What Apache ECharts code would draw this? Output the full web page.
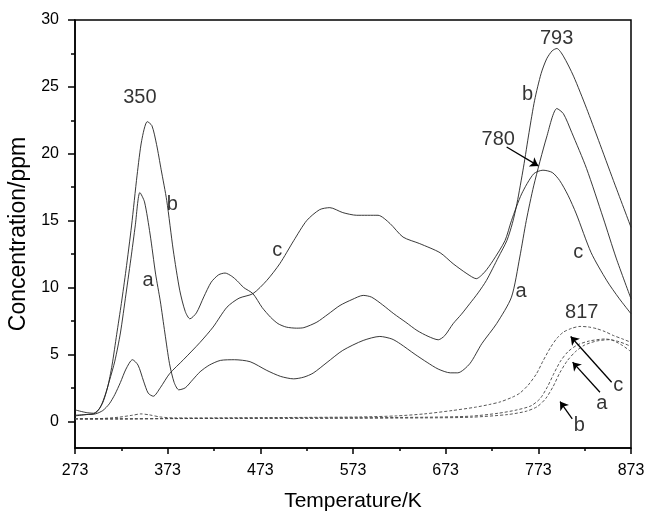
<!DOCTYPE html>
<html>
<head>
<meta charset="utf-8">
<script src="https://cdn.jsdelivr.net/npm/echarts@6/dist/echarts.min.js"></script>
<style>html,body{margin:0;padding:0;background:#fff}#c{width:647px;height:511px}</style>
</head>
<body>
<div id="c"></div>
<script>
// Solid curves
var aT = [273,285,295,303,310,316,322,328,334,338,343,348,354,360,365,370,375,380,385,392,400,408,418,430,445,462,480,495,509,520,530,545,562,584,602,615,624,640,653,665,678,686,699,712,728,744,753,760,768,782,793,800,809,825,843,857,873];
var aV = [0.45,0.5,0.6,1.4,3.0,4.5,6.6,9.5,12.5,14.6,17.1,16.4,14.0,11.0,9.0,6.6,4.3,2.9,2.35,2.5,3.1,3.7,4.2,4.55,4.6,4.45,3.8,3.35,3.17,3.3,3.6,4.4,5.3,6.04,6.34,6.15,5.79,5.0,4.4,3.9,3.62,3.62,4.3,5.8,7.3,9.28,12.28,15.0,17.6,21.25,23.38,23.0,21.6,18.9,15.2,12.2,9.16];
var bT = [273,285,293,300,308,313,318,323,328,334,340,345,351,356,361,366,372,379,386,392,397,404,412,420,428,435,442,448,455,465,475,484,492,501,512,520,534,546,559,572,584,593,605,617,630,642,654,665,672,681,690,699,708,717,730,739,745,750,757,763,769,776,782,788,793,800,811,825,838,854,873];
var bV = [0.85,0.65,0.6,1.0,2.5,4.2,6.5,8.8,11.3,14.6,18.4,21.0,22.4,22.1,20.7,18.8,16.5,12.8,9.8,8.2,7.66,8.1,9.3,10.4,10.95,11.08,10.85,10.5,10.0,9.54,8.5,7.78,7.3,7.04,6.96,7.0,7.41,8.0,8.66,9.1,9.41,9.28,8.7,8.04,7.4,6.79,6.35,6.09,6.4,7.29,8.0,8.79,9.6,10.53,12.28,13.5,14.8,16.3,19.0,21.6,24.0,26.0,27.1,27.7,27.87,27.3,25.8,23.4,21.0,18.0,14.5];
var cT = [273,285,295,303,310,316,322,328,335,341,347,352,357.5,365,375,390,408,422,437,450,465,480,494,509,523,537,548,562,577,600,613,627,645,667,681,696,706,715,724,737,744,755,768,778,788,796,805,814,830,847,860,873];
var cV = [0.4,0.5,0.55,0.8,1.3,2.0,2.9,3.9,4.6,4.2,3.0,2.1,1.87,2.5,3.55,4.6,5.9,7.04,8.53,9.2,9.54,10.53,11.78,13.5,15.0,15.82,15.97,15.6,15.4,15.4,14.78,13.77,13.28,12.6,11.78,11.03,10.66,11.15,12.0,13.5,15.0,17.0,18.5,18.77,18.6,18.0,16.9,15.5,12.6,10.5,9.2,8.04];
// Dashed curves
var daT = [273,320,380,450,550,650,700,730,750,765,775,783,790,797,805,815,828,845,860,873];
var daV = [0.15,0.15,0.2,0.22,0.25,0.3,0.38,0.6,0.85,1.15,1.7,2.6,3.6,4.5,5.2,5.7,6.0,6.15,5.95,5.6];
var dbT = [273,320,380,450,550,650,700,740,760,772,781,789,796,804,813,823,836,850,863,873];
var dbV = [0.2,0.2,0.2,0.22,0.22,0.25,0.3,0.5,0.75,1.1,1.7,2.6,3.6,4.5,5.2,5.7,6.0,6.1,5.7,5.2];
var dcT = [273,300,320,335,344,353,365,380,420,500,580,620,650,680,705,720,732,745,753,762,771,778,786,793,800,809,818,827,836,845,854,864,873];
var dcV = [0.18,0.2,0.3,0.45,0.55,0.48,0.32,0.25,0.25,0.28,0.32,0.4,0.55,0.8,1.05,1.25,1.45,1.8,2.1,2.7,3.55,4.5,5.5,6.2,6.66,6.95,7.09,7.05,6.92,6.7,6.41,6.15,5.9];
// Ticks
var xMajor = [273,373,473,573,673,773,873];
var xMinor = [323,423,523,623,723,823];
var yMajor = [0,5,10,15,20,25,30];
var yMinor = [2.5,7.5,12.5,17.5,22.5,27.5];
// Annotations
var noteText = ['350','793','780','817','b','a','c','b','a','c','c','a','b'];
var noteT = [343,792.8,729.8,819.8,378,351.8,491.3,761.5,754.3,816.1,859.3,841.4,817.2];
var noteV = [24.2,28.6,21.1,8.16,16.2,10.5,12.8,24.4,9.73,12.65,2.67,1.3,-0.32];
// Arrows
var arrowFromT = [738.8,852.1,839.5,809.6];
var arrowFromV = [20.5,2.92,2.17,0.18];
var arrowToT = [773.0,807.9,810.0,796.4];
var arrowToV = [19.09,6.34,4.42,1.47];

function zip(t, v){ return t.map(function(x,i){ return [x, v[i]]; }); }
var FONT = '"Liberation Sans", Arial, sans-serif';
var chart = echarts.init(document.getElementById('c'), null, {renderer:'canvas'});

function curve(name, t, v, dash){
  return {name:name, type:'line', data:zip(t,v), smooth:0.25, showSymbol:false, symbol:'none',
    lineStyle:{color: dash ? '#444' : '#222', width:0.9, type: dash ? [3,2] : 'solid'},
    xAxisIndex:0, yAxisIndex:0, z:3, silent:true, animation:false};
}

var option = {
  animation:false,
  grid:{left:75, right:16, top:20, bottom:63, show:true, borderColor:'#000', borderWidth:1.5,
        backgroundColor:'transparent', containLabel:false, outerBoundsMode:'none'},
  xAxis:[
    {type:'value', min:273, max:873, position:'bottom',
     axisLine:{show:true, onZero:false, lineStyle:{color:'#000', width:1.5}},
     axisTick:{show:true, inside:false, length:6, customValues:xMajor, lineStyle:{color:'#000', width:1.5}},
     axisLabel:{show:true, customValues:xMajor, color:'#000', fontSize:16, fontFamily:FONT, margin:15},
     splitLine:{show:false},
     name:'Temperature/K', nameLocation:'middle', nameGap:43,
     nameTextStyle:{color:'#000', fontSize:21, fontFamily:FONT}},
    {type:'value', min:273, max:873, position:'bottom', gridIndex:0,
     axisLine:{show:false, onZero:false}, axisTick:{show:true, length:3, customValues:xMinor, lineStyle:{color:'#000', width:1.5}},
     axisLabel:{show:false}, splitLine:{show:false}}
  ],
  yAxis:[
    {type:'value', min:-2, max:30, position:'left',
     axisLine:{show:true, onZero:false, lineStyle:{color:'#000', width:1.5}},
     axisTick:{show:true, inside:false, length:7, customValues:yMajor, lineStyle:{color:'#000', width:1.5}},
     axisLabel:{show:true, customValues:yMajor, color:'#000', fontSize:16, fontFamily:FONT, margin:16},
     splitLine:{show:false},
     name:'Concentration/ppm', nameLocation:'middle', nameGap:43, nameRotate:90,
     nameTextStyle:{color:'#000', fontSize:23, fontFamily:FONT}},
    {type:'value', min:-2, max:30, position:'left', gridIndex:0,
     axisLine:{show:false, onZero:false}, axisTick:{show:true, length:4, customValues:yMinor, lineStyle:{color:'#000', width:1.5}},
     axisLabel:{show:false}, splitLine:{show:false}}
  ],
  series:[
    curve('a', aT, aV, false), curve('b', bT, bV, false), curve('c', cT, cV, false),
    curve('a dashed', daT, daV, true), curve('b dashed', dbT, dbV, true), curve('c dashed', dcT, dcV, true),
    {type:'lines', coordinateSystem:'cartesian2d', xAxisIndex:0, yAxisIndex:0, silent:true, z:4,
     symbol:['none','arrow'], symbolSize:[0,8],
     lineStyle:{color:'#000', width:1.3, opacity:1},
     data: arrowFromT.map(function(t,i){ return {coords:[[t, arrowFromV[i]],[arrowToT[i], arrowToV[i]]]}; })},
    {type:'scatter', xAxisIndex:0, yAxisIndex:0, silent:true, z:5, symbolSize:1,
     itemStyle:{color:'rgba(0,0,0,0)'},
     label:{show:true, position:'inside', color:'#000', fontSize:20, fontFamily:FONT,
       formatter:function(p){ return noteText[p.dataIndex]; }},
     labelLayout:{hideOverlap:false},
     data: zip(noteT, noteV)}
  ]
};
chart.setOption(option);
</script>
</body>
</html>
